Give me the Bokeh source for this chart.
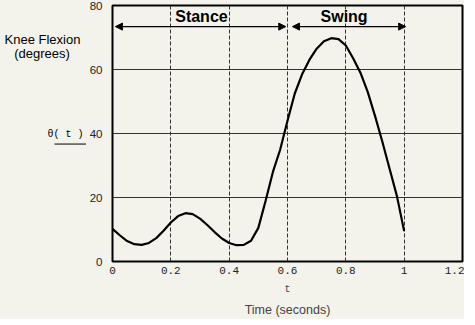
from bokeh.plotting import figure
from bokeh.layouts import row
from bokeh.models import Label, Arrow, NormalHead, LinearAxis, FixedTicker, Range1d
from bokeh.core.properties import value
from bokeh.embed import file_html
from bokeh.resources import INLINE

# ---- data ----
t = [0, 0.025, 0.05, 0.075, 0.1, 0.125, 0.15, 0.175, 0.2, 0.225, 0.25, 0.275, 0.3,
     0.325, 0.35, 0.375, 0.4, 0.425, 0.45, 0.475, 0.5, 0.525, 0.55, 0.575, 0.6,
     0.625, 0.65, 0.675, 0.7, 0.725, 0.75, 0.775, 0.8, 0.825, 0.85, 0.875, 0.9,
     0.925, 0.95, 0.975, 1.0]
theta = [10.2, 8.2, 6.4, 5.4, 5.2, 5.8, 7.3, 9.6, 12.2, 14.2, 15.1, 14.8, 13.4,
         11.4, 9.2, 7.2, 5.8, 5.1, 5.2, 6.5, 10.5, 19.0, 28.0, 35.0, 44.0,
         52.5, 58.5, 63.0, 66.5, 68.8, 69.8, 69.5, 67.5, 63.5, 59.0, 53.0, 45.5,
         37.5, 29.0, 20.5, 9.5]
x_ticks = [0, 0.2, 0.4, 0.6, 0.8, 1.0, 1.2]
x_tick_labels = ["0", "0.2", "0.4", "0.6", "0.8", "1", "1.2"]
y_ticks = [0, 20, 40, 60, 80]
phases = ["Stance", "Swing"]
phase_start = [0.01, 0.617]
phase_end = [0.594, 1.005]
phase_label_x = [0.305, 0.794]
arrow_y = 73.4

BG = "#f3f3eb"
yr = Range1d(0, 80)
LW = 86   # width of caption panel

# ---------- left caption panel ----------
left = figure(frame_width=LW, frame_height=256, output_backend="svg", toolbar_location=None,
              x_range=Range1d(0, LW), y_range=yr, x_axis_location=None, y_axis_location=None,
              min_border_left=0, min_border_right=0, min_border_top=5, min_border_bottom=55,
              styles={"background-color": BG})
left.background_fill_color = BG
left.border_fill_color = BG
left.outline_line_color = None
left.grid.visible = False
left.text(x=[42, 41.5], y=[69.4, 65.0], text=["Knee Flexion", "(degrees)"],
          text_align="center", text_baseline="middle", text_font=value("Liberation Sans"),
          text_font_size="13px", text_color="black")
left.text(x=[65], y=[39.8], text=["\u03b8( t )"], text_align="center", text_baseline="middle",
          text_font=value("Liberation Mono"), text_font_size="10px", text_color="black")
left.segment(x0=[54], y0=[36.7], x1=[LW], y1=[36.7], line_color="black", line_width=1)

# ---------- main plot ----------
p = figure(frame_width=350, frame_height=256, output_backend="svg", toolbar_location=None,
           x_range=Range1d(0, 1.2), y_range=yr,
           min_border_left=109 - LW, min_border_right=2, min_border_top=5, min_border_bottom=50,
           styles={"background-color": BG})
p.background_fill_color = BG
p.border_fill_color = BG
p.outline_line_color = "black"
p.outline_line_width = 2
p.outline_line_alpha = 1

xa = p.xaxis[0]
xa.ticker = FixedTicker(ticks=x_ticks)
xa.major_label_overrides = {tk: lb for tk, lb in zip(x_ticks, x_tick_labels)}
xa.major_tick_line_color = None
xa.major_tick_out = 0
xa.major_tick_in = 0
xa.minor_tick_line_color = None
xa.axis_line_color = None
xa.major_label_text_font = "Liberation Mono"
xa.major_label_text_font_size = "11px"
xa.major_label_text_color = "#222222"
xa.major_label_standoff = 5
xa.axis_label = "t"
xa.axis_label_text_font = "Liberation Mono"
xa.axis_label_text_font_style = "normal"
xa.axis_label_text_font_size = "10px"
xa.axis_label_standoff = 7

xa2 = LinearAxis(ticker=FixedTicker(ticks=[]), axis_label="Time (seconds)",
                 axis_line_color=None, major_tick_line_color=None,
                 major_tick_out=0, major_tick_in=0, major_label_standoff=0,
                 minor_tick_line_color=None, major_label_text_font_size="0px",
                 axis_label_text_font="Liberation Sans",
                 axis_label_text_font_style="normal",
                 axis_label_text_font_size="12.5px", axis_label_standoff=5)
p.add_layout(xa2, "below")

ya = p.yaxis[0]
ya.ticker = FixedTicker(ticks=y_ticks)
ya.major_tick_line_color = None
ya.major_tick_out = 0
ya.major_tick_in = 0
ya.minor_tick_line_color = None
ya.axis_line_color = None
ya.major_label_text_font = "Liberation Sans"
ya.major_label_text_font_size = "11.5px"
ya.major_label_text_color = "#222222"
ya.major_label_standoff = 10

p.xgrid.grid_line_color = "#333333"
p.xgrid.grid_line_dash = "4 2"
p.xgrid.grid_line_width = 1
p.ygrid.grid_line_color = "#333333"
p.ygrid.grid_line_width = 1

p.line(t, theta, line_color="black", line_width=2.2)

for name, xs, xe, lx in zip(phases, phase_start, phase_end, phase_label_x):
    p.add_layout(Arrow(x_start=xs, y_start=arrow_y, x_end=xe, y_end=arrow_y,
                       line_color="black", line_width=1.2,
                       start=NormalHead(size=7, fill_color="black", line_color="black"),
                       end=NormalHead(size=7, fill_color="black", line_color="black")))
    p.add_layout(Label(x=lx, y=76.5, text=name, text_align="center", text_baseline="middle",
                       text_font="Liberation Sans", text_font_style="bold",
                       text_font_size="16px", text_color="black"))

layout = row(left, p, spacing=0, styles={"background-color": BG})
open("out.html", "w").write(file_html(layout, INLINE))
